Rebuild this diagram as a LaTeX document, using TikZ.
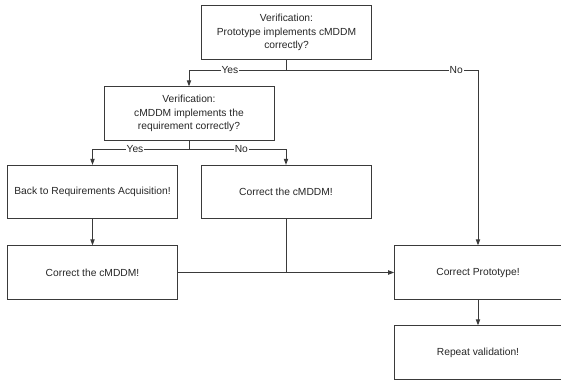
\documentclass[tikz,border=0pt]{standalone}
\usepackage{fontspec}
\setmainfont{Liberation Sans}
\usetikzlibrary{arrows.meta}
\definecolor{ln}{HTML}{3A3A3A}
\tikzset{
  box/.style={draw=ln, line width=0.7pt, minimum width=127.5pt, minimum height=40pt,
    align=center, inner sep=1pt, font=\fontsize{7.7}{10.3}\selectfont, text=black!85},
  conn/.style={draw=ln, line width=0.7pt},
  arr/.style={conn, -{Triangle[length=4.5pt,width=3.2pt]}},
  lbl/.style={fill=white, inner sep=0.6pt, font=\fontsize{7.7}{9}\selectfont, text=black!85},
}
\begin{document}
\begin{tikzpicture}[x=0.75pt,y=-0.75pt]
\useasboundingbox (0,0) rectangle (561,381);
\node[box] (b1) at (286.5,32.5) {Verification:\\Prototype implements cMDDM\\correctly?};
\node[box] (b2) at (189,113.5) {Verification:\\cMDDM implements the\\requirement correctly?};
\node[box] (b3) at (92.5,192) {Back to Requirements Acquisition!};
\node[box] (b4) at (286,192) {Correct the cMDDM!};
\node[box] (b5) at (92.5,272.5) {Correct the cMDDM!};
\node[box, minimum width=125pt] (b6) at (478,272.5) {Correct Prototype!};
\node[box, minimum width=125pt] (b7) at (478,352.5) {Repeat validation!};
\coordinate (j1) at (286.5,70);
\coordinate (j2) at (189,149);
\coordinate (j3) at (286,272.5);
\draw[conn] (b1.south) -- (j1);
\draw[arr] (j1) -| node[lbl,pos=0.29] {Yes} (b2.north);
\draw[arr] (j1) -| node[lbl,pos=0.443] {No} (b6.north);
\draw[conn] (b2.south) -- (j2);
\draw[arr] (j2) -| node[lbl,pos=0.28] {Yes} (b3.north);
\draw[arr] (j2) -| node[lbl,pos=0.27] {No} (b4.north);
\draw[arr] (b3.south) -- (b5.north);
\draw[arr] (b5.east) -- (b6.west);
\draw[conn] (b4.south) -- (j3);
\draw[arr] (b6.south) -- (b7.north);
\end{tikzpicture}
\end{document}
